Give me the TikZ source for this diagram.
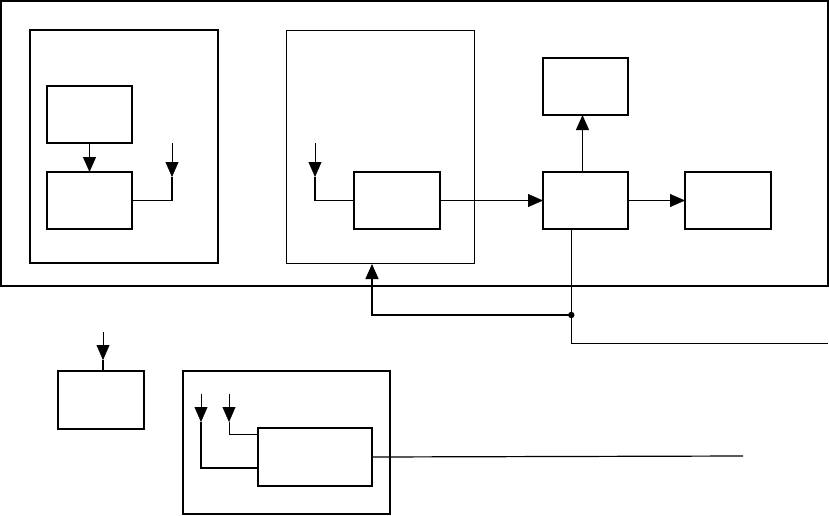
\documentclass[tikz,border=0pt]{standalone}
\usetikzlibrary{arrows.meta}

\tikzset{
  blk/.style={draw, line width=1.3pt, minimum width=85pt, minimum height=57pt, inner sep=0pt, outer sep=0pt},
  grp/.style={draw, line width=1.2pt, inner sep=0pt, outer sep=0pt},
  tip/.style={-{Triangle[length=15pt,width=13pt]}},
  wire/.style={line width=1.2pt}
}

\begin{document}
\begin{tikzpicture}[x=1pt,y=-1pt]
\useasboundingbox (0,0) rectangle (829,515);
% containers
\node[grp, minimum width=827pt, minimum height=285pt] (outer) at (414.5,143.5) {};
\node[grp, line width=1.6pt, minimum width=188pt, minimum height=233pt] (srcgrp) at (124,146.5) {};
\node[grp, line width=0.9pt, minimum width=188pt, minimum height=233pt] (ctrlgrp) at (380,146.5) {};
\node[grp, minimum width=207pt, minimum height=143pt] (lowgrp) at (286.5,442.5) {};
% blocks
\node[blk] (gen) at (89.5,114.5) {};
\node[blk] (mod) at (89.5,200.5) {};
\node[blk, minimum width=86pt] (ctrl) at (397,200.5) {};
\node[blk] (hub) at (585.5,200.5) {};
\node[blk] (top) at (585.5,86.5) {};
\node[blk, minimum width=86pt] (out) at (728,200.5) {};
\node[blk, minimum width=86pt, minimum height=58pt] (aux) at (101,400) {};
\node[blk, minimum width=114pt, minimum height=58pt] (drv) at (315,457) {};
% free ends
\coordinate (inA) at (172,143);
\coordinate (kA) at (172,177);
\coordinate (inC) at (315,143);
\coordinate (kC) at (315,177);
\coordinate (tap) at (571.3,315);
\coordinate (busR) at (828,343);
\coordinate (fbT) at (372,264);
\coordinate (inG) at (103,332);
\coordinate (kG) at (103,360);
\coordinate (in1) at (201,394);
\coordinate (k1) at (201,422);
\coordinate (in2) at (229,394);
\coordinate (k2) at (229,422);
\coordinate (lineR) at (743,456);
% left group
\draw[wire, tip] (gen.south) -- (mod.north);
\draw[tip] (inA) -- (kA);
\draw[wire] (mod.east) -| (kA);
% middle group
\draw[tip] (inC) -- (kC);
\draw[wire] (ctrl.west) -| (kC);
\draw[tip] (ctrl.east) -- (hub.west);
\draw[tip] (hub.east) -- (out.west);
\draw[wire, tip] ([xshift=-3pt]hub.north) -- ([xshift=-3pt]top.south);
% feedback
\draw ([xshift=-14.2pt]hub.south) -- (tap) |- (busR);
\draw[wire, tip] (tap) -| (fbT);
\fill (tap) circle (3.2pt);
% lower part
\draw[tip] (inG) -- (kG);
\draw[wire] (kG) -- ([xshift=2pt]aux.north);
\draw[tip] (in1) -- (k1);
\draw[wire] (k1) |- ([yshift=-11pt]drv.west);
\draw[tip] (in2) -- (k2);
\draw (k2) |- ([yshift=23pt]drv.west);
\draw[wire] (drv.east) -- (lineR);
\end{tikzpicture}
\end{document}
